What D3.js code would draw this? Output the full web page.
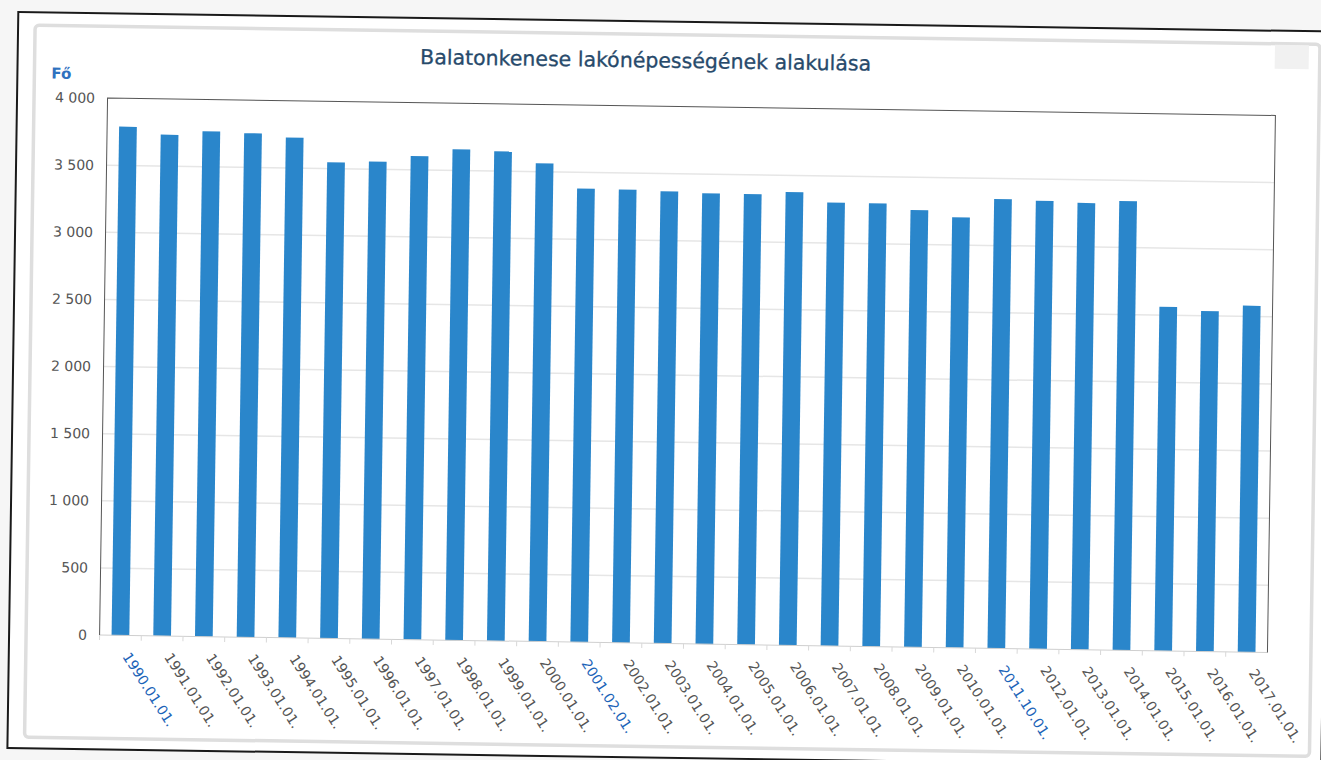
<!DOCTYPE html>
<html>
<head>
<meta charset="utf-8">
<script src="https://cdn.jsdelivr.net/npm/d3@7"></script>
<style>
  html, body { margin: 0; padding: 0; background: #f6f6f6; }
  svg { display: block; }
  text { font-family: "DejaVu Sans", Verdana, sans-serif; }
</style>
</head>
<body>
<svg id="chart" width="1321" height="760"></svg>
<script>
// ---- data ----
const categories = [
  "1990.01.01.", "1991.01.01.", "1992.01.01.", "1993.01.01.", "1994.01.01.",
  "1995.01.01.", "1996.01.01.", "1997.01.01.", "1998.01.01.", "1999.01.01.",
  "2000.01.01.", "2001.02.01.", "2002.01.01.", "2003.01.01.", "2004.01.01.",
  "2005.01.01.", "2006.01.01.", "2007.01.01.", "2008.01.01.", "2009.01.01.",
  "2010.01.01.", "2011.10.01.", "2012.01.01.", "2013.01.01.", "2014.01.01.",
  "2015.01.01.", "2016.01.01.", "2017.01.01."
];
const population = [
  3789, 3734, 3764, 3754, 3726,
  3547, 3556, 3603, 3658, 3647,
  3562, 3378, 3376, 3368, 3357,
  3357, 3376, 3302, 3302, 3256,
  3206, 3347, 3339, 3327, 3346,
  2563, 2536, 2580
];
const censusDates = ["1990.01.01.", "2001.02.01.", "2011.10.01."];
const yTicks = [0, 500, 1000, 1500, 2000, 2500, 3000, 3500, 4000];
const titleText = "Balatonkenese lakónépességének alakulása";
const yUnit = "Fő";

// ---- layout ----
const W = 1321, H = 760;
const plot = { left: 103.5, right: 1271.5, top: 106.75, bottom: 643.75 };
const tilt = 0.85; // scan rotation (degrees)

const svg = d3.select("#chart");
const g = svg.append("g")
  .attr("transform", `rotate(${tilt}, ${W / 2 + 27}, ${H / 2 - 4.75})`);

// paper edge
g.append("rect")
  .attr("x", 13).attr("y", 22).attr("width", 1314).attr("height", 736)
  .attr("fill", "#ffffff").attr("stroke", "#1a1a1a").attr("stroke-width", 2);

// chart container
g.append("rect")
  .attr("x", 30).attr("y", 35).attr("width", 1285).attr("height", 712)
  .attr("rx", 4)
  .attr("fill", "#ffffff").attr("stroke", "#dedede").attr("stroke-width", 3.5);

// faint menu icon
g.append("rect")
  .attr("x", 1270).attr("y", 36).attr("width", 34).attr("height", 24)
  .attr("fill", "#f1f1f1");

const x = d3.scaleBand()
  .domain(categories)
  .range([plot.left, plot.right])
  .paddingInner(0.575)
  .paddingOuter(0.2875);

const y = d3.scaleLinear()
  .domain([0, 4000])
  .range([plot.bottom, plot.top]);

// grid lines
g.append("g")
  .selectAll("line")
  .data(yTicks.filter(t => t > 0 && t < 4000))
  .join("line")
  .attr("x1", plot.left).attr("x2", plot.right)
  .attr("y1", d => y(d)).attr("y2", d => y(d))
  .attr("stroke", "#e6e6e6").attr("stroke-width", 1.5);

// y axis labels
const fmt = d3.formatLocale({ decimal: ",", thousands: "\u00a0", grouping: [3], currency: ["", ""] }).format(",");
const yAxis = d3.axisLeft(y).tickValues(yTicks).tickFormat(fmt).tickSize(0).tickPadding(12.5);
const yAxisG = g.append("g")
  .attr("transform", `translate(${plot.left},0)`)
  .call(yAxis);
yAxisG.select(".domain").remove();
yAxisG.selectAll("text")
  .attr("font-size", 14)
  .attr("fill", "#555")
  .attr("font-family", "DejaVu Sans, sans-serif");

// bars
g.append("g")
  .selectAll("rect")
  .data(categories.map((c, i) => ({ c, v: population[i] })))
  .join("rect")
  .attr("x", d => x(d.c))
  .attr("y", d => y(d.v))
  .attr("width", x.bandwidth())
  .attr("height", d => y(0) - y(d.v))
  .attr("fill", "#2a86cb");

// x axis baseline and ticks at category boundaries
g.append("line")
  .attr("x1", plot.left).attr("x2", plot.right)
  .attr("y1", plot.bottom).attr("y2", plot.bottom)
  .attr("stroke", "#cfcfcf").attr("stroke-width", 1);
const step = x.step();
g.append("g")
  .selectAll("line")
  .data(categories)
  .join("line")
  .attr("x1", d => x(d) + x.bandwidth() / 2 - step / 2)
  .attr("x2", d => x(d) + x.bandwidth() / 2 - step / 2)
  .attr("y1", plot.bottom).attr("y2", plot.bottom + 5)
  .attr("stroke", "#d8d8d8");

// plot frame (left, top, right)
g.append("path")
  .attr("d", `M${plot.left},${plot.bottom}V${plot.top}H${plot.right}V${plot.bottom}`)
  .attr("fill", "none").attr("stroke", "#555").attr("stroke-width", 1);

// x labels
g.append("g")
  .selectAll("text")
  .data(categories)
  .join("text")
  .attr("transform", d => `translate(${x(d) + x.bandwidth() / 2 + 2},${plot.bottom + 21}) rotate(56.5)`)
  .attr("text-anchor", "start")
  .attr("font-size", 14)
  .attr("fill", d => censusDates.includes(d) ? "#1c64b8" : "#555")
  .text(d => d);

// title
g.append("text")
  .attr("x", 641).attr("y", 68)
  .attr("text-anchor", "middle")
  .attr("font-size", 20.5)
  .attr("fill", "#274a6b")
  .attr("stroke", "#274a6b").attr("stroke-width", 0.3)
  .text(titleText);

// unit label
g.append("text")
  .attr("x", 47).attr("y", 88)
  .attr("font-size", 15)
  .attr("font-weight", "bold")
  .attr("fill", "#2f72bf")
  .text(yUnit);
</script>
</body>
</html>
